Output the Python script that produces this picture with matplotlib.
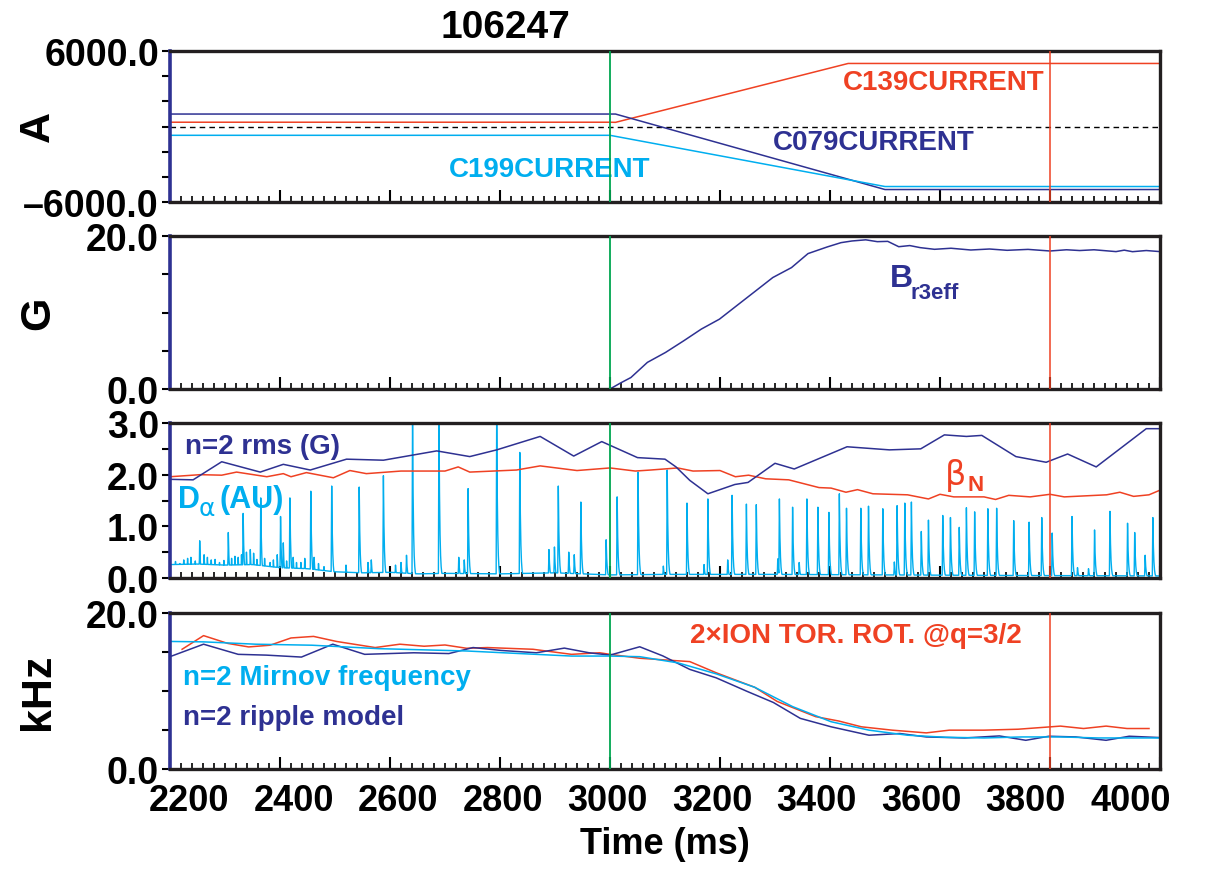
import numpy as np
import matplotlib
matplotlib.use('Agg')
import matplotlib.pyplot as plt
from matplotlib.ticker import MultipleLocator, FixedLocator, FixedFormatter
from matplotlib.transforms import ScaledTranslation

plt.rcParams['font.family'] = ['Liberation Sans', 'DejaVu Sans']
plt.rcParams['font.weight'] = 'bold'
plt.rcParams['axes.labelweight'] = 'bold'

NAVY = '#2E3192'
RED = '#EF4123'
CYAN = '#00AEEF'
GREEN = '#00A651'

# ---------------- data ----------------
shot = "106247"
xticks = [2200, 2400, 2600, 2800, 3000, 3200, 3400, 3600, 3800, 4000]

# Panel 1: coil currents (A)
c139_t = [2200, 3000, 3010, 3433, 4000]
c139_v = [340, 340, 330, 5010, 5010]
c079_t = [2200, 3010, 3500, 4000]
c079_v = [990, 990, -5010, -5010]
c199_t = [2200, 3000, 3500, 4000]
c199_v = [-700, -700, -4770, -4770]

# Panel 2: Br3eff (G)
br_t = [2200, 2600, 3000, 3018, 3038, 3068, 3101, 3134, 3166, 3199, 3230, 3265, 3296, 3330,
        3360, 3395, 3420, 3440, 3465, 3486, 3505, 3525, 3545, 3564, 3590, 3620, 3656, 3690,
        3722, 3760, 3800, 3830, 3854, 3880, 3920, 3935, 3950, 3975, 4000]
br_v = [0.0, 0.0, 0.0, 0.74, 1.5, 3.48, 4.78, 6.3, 7.83, 9.13, 10.87, 12.83, 14.57, 15.87,
        17.7, 18.57, 19.13, 19.35, 19.5, 19.26, 19.3, 18.6, 18.75, 18.48, 18.26, 18.4, 18.17,
        18.3, 18.13, 18.25, 18.04, 18.2, 18.1, 18.2, 17.96, 18.15, 17.95, 18.1, 17.96]

# Panel 3: n=2 rms (G), beta_N, D-alpha (AU)
rms_t = [2200, 2242, 2294, 2364, 2406, 2455, 2521, 2588, 2685, 2745, 2794, 2873, 2934, 2985,
         3050, 3100, 3120, 3145, 3178, 3227, 3251, 3300, 3335, 3431, 3508, 3565, 3608, 3648,
         3676, 3738, 3793, 3832, 3884, 3975, 4000]
rms_v = [1.91, 1.90, 2.25, 2.05, 2.20, 2.09, 2.30, 2.28, 2.46, 2.35, 2.48, 2.74, 2.36, 2.64,
         2.33, 2.30, 2.15, 1.89, 1.63, 1.81, 1.85, 2.22, 2.11, 2.54, 2.48, 2.50, 2.77, 2.74,
         2.76, 2.35, 2.24, 2.40, 2.15, 2.89, 2.89]
betan_t = [2200, 2255, 2294, 2321, 2376, 2406, 2420, 2448, 2497, 2527, 2557, 2620, 2700, 2724,
           2745, 2830, 2873, 2940, 3000, 3046, 3074, 3123, 3151, 3200, 3228, 3252, 3283, 3325,
           3380, 3402, 3429, 3450, 3478, 3541, 3579, 3600, 3625, 3680, 3701, 3725, 3764, 3800,
           3826, 3903, 3927, 3952, 3980, 4000]
betan_v = [1.96, 2.00, 1.99, 2.05, 1.96, 2.02, 1.96, 2.04, 1.94, 2.08, 2.02, 2.07, 2.07, 2.15,
           2.05, 2.09, 2.17, 2.08, 2.13, 2.07, 2.09, 2.13, 2.07, 2.08, 1.96, 1.99, 1.92, 1.90,
           1.75, 1.74, 1.66, 1.71, 1.63, 1.61, 1.53, 1.62, 1.57, 1.57, 1.52, 1.60, 1.57, 1.62,
           1.57, 1.61, 1.66, 1.58, 1.61, 1.70]
da_base_t = [2200, 2250, 2300, 2350, 2400, 2450, 2500, 2550, 2600, 2650, 2700, 2800, 2900,
             3000, 3100, 3300, 3500, 3700, 4000]
da_base_v = [0.26, 0.27, 0.25, 0.26, 0.20, 0.18, 0.12, 0.10, 0.11, 0.08, 0.09, 0.08, 0.10,
             0.06, 0.07, 0.07, 0.06, 0.05, 0.04]
elm_t = [2210, 2218, 2225, 2232, 2238, 2246, 2254, 2262, 2268, 2275, 2282, 2290, 2298, 2306,
         2312, 2318, 2324, 2330, 2333, 2339, 2346, 2352, 2358, 2365, 2372, 2382, 2388, 2395,
         2401, 2406, 2412, 2418, 2424, 2430, 2438, 2445, 2456, 2462, 2470, 2480, 2494, 2520,
         2544, 2560, 2566, 2588, 2610, 2620, 2630, 2641, 2689, 2725, 2735, 2742, 2794, 2836,
         2889, 2899, 2906, 2925, 2935, 2947, 2993, 3013, 3051, 3097, 3104, 3140, 3171, 3178,
         3214, 3222, 3248, 3266, 3305, 3308, 3332, 3344, 3358, 3378, 3398, 3417, 3430, 3456,
         3470, 3496, 3517, 3522, 3536, 3548, 3566, 3579, 3605, 3619, 3635, 3648, 3663, 3687,
         3703, 3734, 3762, 3785, 3804, 3840, 3850, 3870, 3881, 3909, 3941, 3954, 3973, 3987]
elm_h = [0.32, 0.28, 0.35, 0.38, 0.40, 0.33, 0.72, 0.45, 0.40, 0.35, 0.36, 0.30, 0.34, 0.88,
         0.38, 0.42, 0.40, 0.45, 1.25, 0.50, 0.55, 0.48, 0.36, 1.55, 0.38, 0.30, 0.35, 0.45,
         1.19, 0.68, 0.33, 1.55, 0.40, 0.30, 0.30, 0.38, 1.68, 0.40, 0.28, 0.22, 1.78, 0.25,
         1.76, 0.30, 0.35, 1.98, 0.25, 0.30, 0.44, 3.20, 3.20, 0.40, 0.35, 1.73, 3.20, 2.43,
         0.55, 0.60, 1.78, 0.50, 0.45, 1.47, 0.74, 1.57, 2.05, 0.23, 2.09, 1.45, 0.26, 1.53,
         0.35, 1.60, 1.43, 1.42, 0.37, 1.53, 1.37, 0.30, 1.53, 1.37, 1.27, 1.63, 1.35, 1.35,
         1.39, 1.34, 0.31, 1.40, 1.45, 1.47, 0.90, 1.12, 1.21, 1.17, 0.98, 1.36, 1.28, 1.34,
         1.35, 1.11, 1.08, 1.17, 0.87, 1.19, 0.20, 0.18, 0.93, 1.29, 1.06, 0.88, 0.44, 1.17]

# Panel 4: frequencies (kHz)
mir_t = [2203, 2261, 2356, 2458, 2579, 2739, 2930, 2998, 3054, 3124, 3193, 3263, 3332, 3402,
         3471, 3541, 3610, 3680, 3749, 3819, 3888, 4000]
mir_v = [16.35, 16.3, 16.0, 15.87, 15.43, 15.13, 14.48, 14.48, 14.4, 13.6, 12.2, 10.48, 8.0,
         6.06, 4.98, 4.33, 4.07, 3.98, 4.11, 4.11, 3.98, 3.98]
rot_t = [2222, 2261, 2305, 2343, 2382, 2420, 2461, 2503, 2573, 2618, 2662, 2700, 2739, 2777,
         2860, 2930, 2981, 3000, 3054, 3145, 3193, 3263, 3304, 3374, 3416, 3457, 3513, 3575,
         3617, 3680, 3742, 3819, 3861, 3902, 3940, 3980]
rot_v = [15.35, 17.1, 16.1, 15.65, 15.87, 16.8, 17.0, 16.35, 15.57, 16.0, 15.74, 15.9, 15.48,
         15.57, 15.35, 14.7, 14.9, 14.7, 14.2, 13.77, 12.34, 10.48, 8.66, 6.71, 6.15, 5.41,
         4.98, 4.63, 4.98, 4.98, 5.1, 5.5, 5.19, 5.5, 5.19, 5.19]
rip_t = [2203, 2261, 2324, 2375, 2439, 2496, 2554, 2643, 2707, 2751, 2802, 2866, 2917, 2962,
         3000, 3054, 3096, 3145, 3193, 3249, 3297, 3346, 3402, 3471, 3527, 3575, 3645, 3708,
         3756, 3798, 3847, 3902, 3944, 4000]
rip_v = [14.48, 16.0, 14.7, 14.6, 14.35, 16.0, 14.7, 14.9, 14.8, 15.57, 15.2, 14.9, 15.5, 14.9,
         14.6, 15.67, 14.5, 12.77, 11.69, 9.96, 8.53, 6.49, 5.41, 4.33, 4.55, 4.11, 3.98, 4.24,
         3.68, 4.2, 4.11, 3.68, 4.2, 4.03]

# ---------------- figure ----------------
W, H = 1221, 878
fig = plt.figure(figsize=(W / 100, H / 100), dpi=100)

def frac_axes(top_px, bot_px):
    l = 170 / W
    r = 1160 / W
    return fig.add_axes([l, 1 - bot_px / H, r - l, (bot_px - top_px) / H])

ax1 = frac_axes(52, 203)
ax2 = frac_axes(237, 390)
ax3 = frac_axes(424, 579)
ax4 = frac_axes(614, 770)
axes = [ax1, ax2, ax3, ax4]

LW = 1.1
TS = 27
FS = 20

# Panel 1
ax1.axhline(0, color='black', lw=1.0, ls=(0, (4, 3)))
ax1.plot(c139_t, c139_v, color=RED, lw=LW)
ax1.plot(c079_t, c079_v, color=NAVY, lw=LW)
ax1.plot(c199_t, c199_v, color=CYAN, lw=LW)
ax1.set_ylim(-6000, 6000)
ax1.yaxis.set_major_locator(FixedLocator([-6000, -4000, -2000, 0, 2000, 4000, 6000]))
ax1.yaxis.set_major_formatter(FixedFormatter(['\u20136000.0', '', '', '', '', '', '6000.0']))
ax1.text(3424, 3536, 'C139CURRENT', color=RED, fontsize=FS, ha='left', va='center')
ax1.text(3296, -1232, 'C079CURRENT', color=NAVY, fontsize=FS, ha='left', va='center')
ax1.text(2707, -3377, 'C199CURRENT', color=CYAN, fontsize=FS, ha='left', va='center')

# Panel 2
ax2.plot(br_t, br_v, color=NAVY, lw=LW)
ax2.set_ylim(0, 20)
ax2.yaxis.set_major_locator(FixedLocator([0, 5, 10, 15, 20]))
ax2.yaxis.set_major_formatter(FixedFormatter(['0.0', '', '', '', '20.0']))
ax2.text(3509, 14.5, 'B', color=NAVY, fontsize=23, ha='left', va='center')
ax2.text(3547, 12.6, 'r3eff', color=NAVY, fontsize=16, ha='left', va='center')

# Panel 3
t_da = np.arange(2200, 4000.01, 0.5)
da = np.interp(t_da, da_base_t, da_base_v)
for t0, h in zip(elm_t, elm_h):
    dt = t_da - t0
    shape = np.where(dt < -1, 0.0, np.where(dt < 0, (dt + 1), np.exp(-np.clip(dt, 0, None) / 1.5)))
    da = np.maximum(da, h * shape)
ax3.plot(t_da, da, color=CYAN, lw=1.0)
ax3.plot(betan_t, betan_v, color=RED, lw=LW)
ax3.plot(rms_t, rms_v, color=NAVY, lw=LW)
ax3.set_ylim(0, 3)
ax3.yaxis.set_major_locator(FixedLocator([0, 0.5, 1, 1.5, 2, 2.5, 3]))
ax3.yaxis.set_major_formatter(FixedFormatter(['0.0', '', '1.0', '', '2.0', '', '3.0']))
ax3.text(2227, 2.55, 'n=2 rms (G)', color=NAVY, fontsize=FS, ha='left', va='center')
ax3.text(2215, 1.53, 'D', color=CYAN, fontsize=22, ha='left', va='center')
ax3.text(2252, 1.35, '\u03b1', color=CYAN, fontsize=18, ha='left', va='center',
         fontweight='normal', family=['DejaVu Sans'])
ax3.text(2290, 1.53, '(AU)', color=CYAN, fontsize=22, ha='left', va='center')
ax3.text(3609, 2.01, '\u03b2', color=RED, fontsize=24, ha='left', va='center',
         fontweight='normal', family=['DejaVu Sans'])
ax3.text(3650, 1.80, 'N', color=RED, fontsize=16, ha='left', va='center')

# Panel 4
ax4.plot(rot_t, rot_v, color=RED, lw=LW)
ax4.plot(rip_t, rip_v, color=NAVY, lw=LW)
ax4.plot(mir_t, mir_v, color=CYAN, lw=LW)
ax4.set_ylim(0, 20)
ax4.yaxis.set_major_locator(FixedLocator([0, 5, 10, 15, 20]))
ax4.yaxis.set_major_formatter(FixedFormatter(['0.0', '', '', '', '20.0']))
ax4.text(3145, 17.2, '2\u00d7ION TOR. ROT. @q=3/2', color=RED, fontsize=FS, ha='left', va='center')
ax4.text(2224, 11.8, 'n=2 Mirnov frequency', color=CYAN, fontsize=FS, ha='left', va='center')
ax4.text(2224, 6.67, 'n=2 ripple model', color=NAVY, fontsize=FS, ha='left', va='center')

for ax in axes:
    ax.set_xlim(2200, 4000)
    ax.axvline(3000, color=GREEN, lw=1.3, zorder=3)
    ax.axvline(3800, color=RED, lw=1.1, zorder=3)
    ax.xaxis.set_major_locator(FixedLocator(xticks))
    ax.xaxis.set_minor_locator(MultipleLocator(20))
    ax.tick_params(axis='x', which='major', direction='in', length=9, width=1.5,
                   bottom=True, top=False, labelsize=26, pad=10)
    ax.tick_params(axis='x', which='minor', direction='in', length=4, width=1.2,
                   bottom=True, top=False)
    ax.tick_params(axis='y', which='major', direction='out', length=6, width=1.5,
                   left=True, right=False, labelsize=TS, pad=2)
    for s in ['top', 'right', 'bottom']:
        ax.spines[s].set_linewidth(2.4)
        ax.spines[s].set_color('#231F20')
    ax.spines['left'].set_linewidth(2.6)
    ax.spines['left'].set_color(NAVY)
    if ax is not ax4:
        ax.tick_params(axis='x', labelbottom=False)

ax4.set_xticklabels([str(v) for v in xticks])
for i, lab in enumerate(ax4.get_xticklabels()):
    dx = (19 - 5.4 * i) / 100.0
    lab.set_transform(lab.get_transform() + ScaledTranslation(dx, 0, fig.dpi_scale_trans))

ax4.set_xlabel('Time (ms)', fontsize=26, labelpad=6)

fig.text(505 / W, 1 - 28 / H, shot, fontsize=28, ha='center', va='center')
fig.text(38 / W, 1 - 127 / H, 'A', fontsize=31, rotation=90, ha='center', va='center')
fig.text(38 / W, 1 - 313 / H, 'G', fontsize=31, rotation=90, ha='center', va='center')
fig.text(38 / W, 1 - 692 / H, 'kHz', fontsize=31, rotation=90, ha='center', va='center')

fig.savefig('out.png', dpi=100)
